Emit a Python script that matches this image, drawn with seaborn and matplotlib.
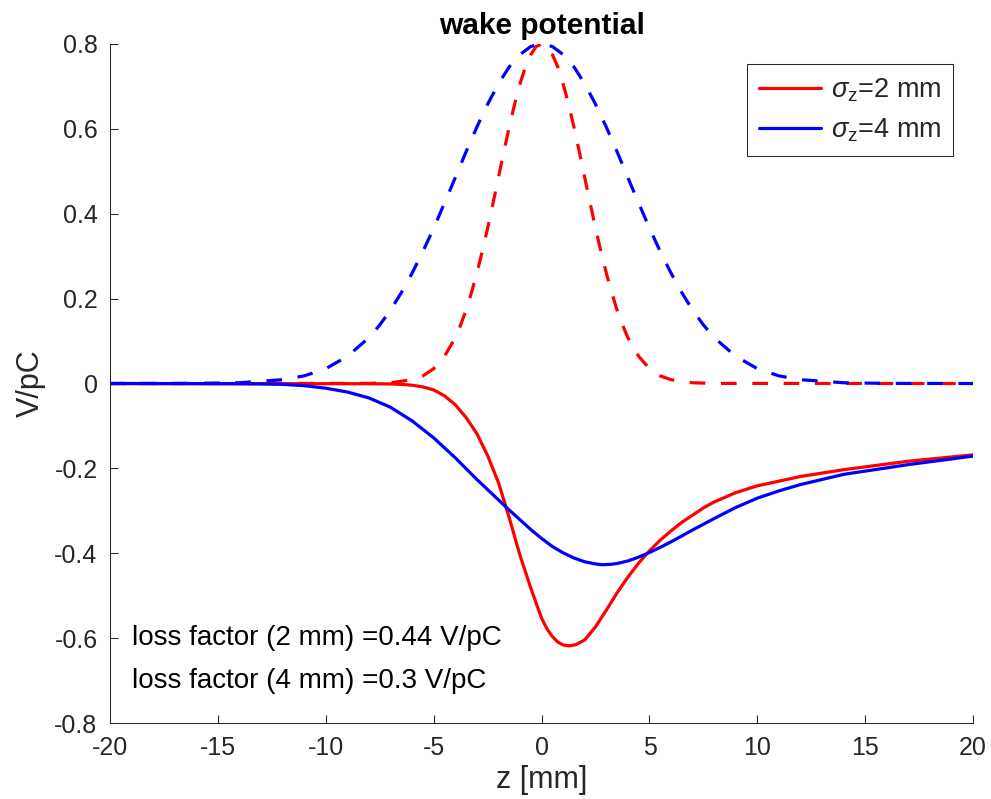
import numpy as np
import pandas as pd
import matplotlib
matplotlib.use("Agg")
import matplotlib.pyplot as plt
import seaborn as sns

# ---------------------------------------------------------------
# Values
# ---------------------------------------------------------------
# bunch profile, sigma_z = 2 mm (red dashed)
z_bunch2 = [-20, -8, -7, -6, -5.5, -5, -4.5, -4, -3.75, -3.5, -3.25, -3, -2.75, -2.5,
            -2.25, -2, -1.75, -1.5, -1.25, -1, -0.75, -0.5, -0.25, 0,
            0.25, 0.5, 0.75, 1, 1.25, 1.5, 1.75, 2, 2.25, 2.5, 2.75, 3, 3.25, 3.5,
            3.75, 4, 4.5, 5, 5.5, 6, 7, 8, 20]
v_bunch2 = [0.0, 0.0003, 0.0018, 0.009, 0.018, 0.035, 0.064, 0.108, 0.138, 0.173,
            0.214, 0.260, 0.311, 0.366, 0.425, 0.485, 0.546, 0.604, 0.658, 0.706,
            0.746, 0.775, 0.794, 0.800,
            0.794, 0.775, 0.746, 0.706, 0.658, 0.604, 0.546, 0.485, 0.425, 0.366,
            0.311, 0.260, 0.214, 0.173, 0.138, 0.108, 0.064, 0.035, 0.018, 0.009,
            0.0018, 0.0003, 0.0]

# bunch profile, sigma_z = 4 mm (blue dashed)
z_bunch4 = [-20, -16, -14, -12, -11, -10, -9, -8, -7.5, -7, -6.5, -6, -5.5, -5, -4.5,
            -4, -3.5, -3, -2.5, -2, -1.5, -1, -0.5, 0,
            0.5, 1, 1.5, 2, 2.5, 3, 3.5, 4, 4.5, 5, 5.5, 6, 6.5, 7, 7.5, 8, 9, 10,
            11, 12, 14, 16, 20]
v_bunch4 = [0.0, 0.0003, 0.0018, 0.009, 0.018, 0.035, 0.064, 0.108, 0.138, 0.173,
            0.214, 0.260, 0.311, 0.366, 0.425, 0.485, 0.546, 0.604, 0.658, 0.706,
            0.746, 0.775, 0.794, 0.800,
            0.794, 0.775, 0.746, 0.706, 0.658, 0.604, 0.546, 0.485, 0.425, 0.366,
            0.311, 0.260, 0.214, 0.173, 0.138, 0.108, 0.064, 0.035, 0.018, 0.009,
            0.0018, 0.0003, 0.0]

# wake potential, sigma_z = 2 mm (red solid)
z_wake2 = [-20, -8, -7, -6.5, -6, -5.5, -5, -4.5, -4, -3.5, -3, -2.5, -2, -1.5, -1,
           -0.5, 0, 0.25, 0.5, 0.75, 1, 1.3, 1.6, 2, 2.5, 3, 3.5, 4, 4.5, 5, 5.5,
           6, 6.5, 7, 7.5, 8, 9, 10, 12, 14, 17, 20]
v_wake2 = [0.0, -0.0005, -0.001, -0.002, -0.004, -0.008, -0.015, -0.029, -0.050,
           -0.080, -0.118, -0.170, -0.233, -0.316, -0.405, -0.482, -0.553, -0.578,
           -0.596, -0.609, -0.616, -0.618, -0.615, -0.604, -0.573, -0.534, -0.493,
           -0.456, -0.423, -0.394, -0.369, -0.347, -0.327, -0.310, -0.293, -0.279,
           -0.257, -0.241, -0.219, -0.203, -0.183, -0.168]

# wake potential, sigma_z = 4 mm (blue solid)
z_wake4 = [-20, -14, -13, -12, -11, -10, -9, -8, -7, -6, -5, -4, -3, -2, -1.5, -1,
           -0.5, 0, 0.5, 1, 1.5, 2, 2.5, 2.8, 3.2, 3.5, 4, 4.5, 5, 5.5, 6, 6.5, 7,
           8, 9, 10, 11, 12, 14, 17, 20]
v_wake4 = [0.0, -0.0005, -0.001, -0.002, -0.005, -0.011, -0.020, -0.034, -0.056,
           -0.088, -0.128, -0.175, -0.226, -0.274, -0.298, -0.321, -0.344, -0.365,
           -0.384, -0.399, -0.411, -0.420, -0.425, -0.427, -0.426, -0.424, -0.418,
           -0.409, -0.398, -0.386, -0.373, -0.359, -0.345, -0.318, -0.292, -0.270,
           -0.253, -0.238, -0.214, -0.191, -0.171]

x_ticks = [-20, -15, -10, -5, 0, 5, 10, 15, 20]
y_ticks = [-0.8, -0.6, -0.4, -0.2, 0, 0.2, 0.4, 0.6, 0.8]
y_tick_labels = ["-0.8", "-0.6", "-0.4", "-0.2", "0", "0.2", "0.4", "0.6", "0.8"]

legend_labels = [r"$\sigma_\mathregular{z}$=2 mm", r"$\sigma_\mathregular{z}$=4 mm"]
loss_texts = ["loss factor (2 mm) =0.44 V/pC", "loss factor (4 mm) =0.3 V/pC"]

# ---------------------------------------------------------------
sns.set_style("ticks")
plt.rcParams["font.family"] = ["Liberation Sans", "DejaVu Sans"]
plt.rcParams["axes.unicode_minus"] = False
plt.rcParams["lines.dashed_pattern"] = [4.9, 4.9]
plt.rcParams["mathtext.fontset"] = "custom"
plt.rcParams["mathtext.rm"] = "Liberation Sans"
plt.rcParams["mathtext.it"] = "Liberation Sans:italic"

fig = plt.figure(figsize=(9.91, 7.99), dpi=100)
ax = fig.add_axes([0.111, 0.095, 0.871, 0.850])

red, blue = "#ff0000", "#0000ff"
lw = 2.3

sns.lineplot(x=z_bunch2, y=v_bunch2, ax=ax, color=red, linestyle="--", linewidth=lw)
sns.lineplot(x=z_bunch4, y=v_bunch4, ax=ax, color=blue, linestyle="--", linewidth=lw)
sns.lineplot(x=z_wake2, y=v_wake2, ax=ax, color=red, linewidth=lw)
sns.lineplot(x=z_wake4, y=v_wake4, ax=ax, color=blue, linewidth=lw)

h_red = ax.lines[2]
h_blue = ax.lines[3]

ax.set_xlim(-20, 20)
ax.set_ylim(-0.8, 0.8)
ax.set_xticks(x_ticks)
ax.set_yticks(y_ticks)
ax.set_yticklabels(y_tick_labels)

for side in ["top", "right"]:
    ax.spines[side].set_visible(False)
for side in ["left", "bottom"]:
    ax.spines[side].set_color("#262626")
    ax.spines[side].set_linewidth(0.75)

ax.tick_params(direction="in", length=6, width=0.75, colors="#262626",
               labelsize=18, pad=9)

ax.set_xlabel("z [mm]", fontsize=22, color="#262626", labelpad=4)
ax.set_ylabel("V/pC", fontsize=22, color="#262626", labelpad=6)
ax.set_title("wake potential", fontsize=21.5, fontweight="bold", color="black", pad=7)

for txt, yv in zip(loss_texts, [-0.6, -0.7]):
    ax.text(-19, yv, txt, fontsize=20, va="center", ha="left", color="black")

leg = ax.legend([h_red, h_blue], legend_labels, loc="upper right",
                bbox_to_anchor=(0.977, 0.97), fontsize=19.5, handlelength=2.3,
                fancybox=False, framealpha=1, edgecolor="#262626",
                borderpad=0.45, labelspacing=0.45, handletextpad=0.35,
                borderaxespad=0)
leg.get_frame().set_linewidth(0.75)

fig.savefig("out.png", dpi=100)
